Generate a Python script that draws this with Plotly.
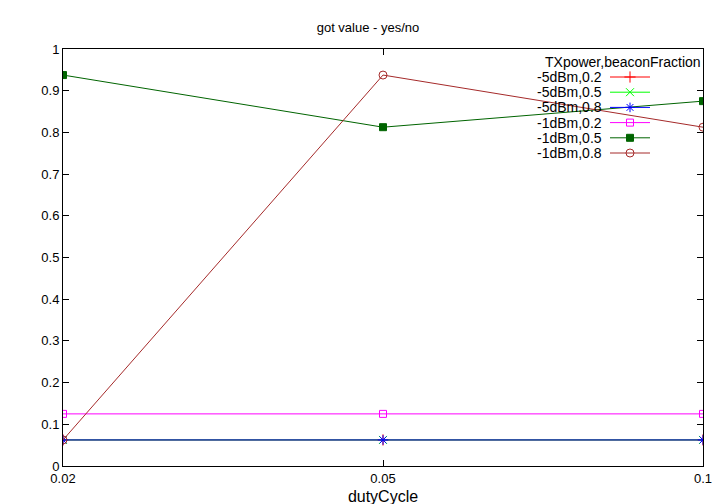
import plotly.graph_objects as go

duty = ["0.02", "0.05", "0.1"]
names = ["-5dBm,0.2", "-5dBm,0.5", "-5dBm,0.8", "-1dBm,0.2", "-1dBm,0.5", "-1dBm,0.8"]
values = [
    [0.0625, 0.0625, 0.0625],
    [0.0625, 0.0625, 0.0625],
    [0.0625, 0.0625, 0.0625],
    [0.125, 0.125, 0.125],
    [0.9375, 0.8125, 0.875],
    [0.0625, 0.9375, 0.8125],
]
colors = ["#ff0000", "#00ff00", "#0000ff", "#ff00ff", "#006400", "#a52a2a"]
symbols = ["cross-thin", "x-thin", "asterisk", "square-open", "square", "circle-open"]
sizes = [8, 8, 8, 7, 7, 8]

W, H = 720, 504
L, R, T, B = 55, 695, 41, 458
def px(x): return (x - L) / (R - L)
def py(y): return (B - y) / (B - T)

fig = go.Figure()
xi = list(range(len(duty)))
for n, v, c, s, z in zip(names, values, colors, symbols, sizes):
    fig.add_trace(go.Scatter(x=xi, y=v, mode="lines+markers", name=n,
        line=dict(color=c, width=1),
        marker=dict(symbol=s, size=z, color=c, line=dict(color=c, width=1)),
        showlegend=False))

ann = [dict(text="TXpower,beaconFraction", x=px(695), y=py(54), xref="paper", yref="paper",
            xanchor="right", yanchor="middle", showarrow=False, font=dict(size=14, color="black"))]
for i, (n, c, s, z) in enumerate(zip(names, colors, symbols, sizes)):
    yy = py(69 + i * 15.2)
    ann.append(dict(text=n, x=px(596), y=yy, xref="paper", yref="paper", xanchor="right",
                    yanchor="middle", showarrow=False, font=dict(size=14, color="black")))
    fig.add_trace(go.Scatter(x=[px(602), px(642)], y=[yy, yy], xaxis="x2", yaxis="y2",
        mode="lines", line=dict(color=c, width=1), showlegend=False, hoverinfo="skip"))
    fig.add_trace(go.Scatter(x=[px(622)], y=[yy], xaxis="x2", yaxis="y2", mode="markers",
        marker=dict(symbol=s, size=z, color=c, line=dict(color=c, width=1)),
        showlegend=False, hoverinfo="skip"))

fig.update_layout(
    width=W, height=H, margin=dict(l=L, r=W - R, t=T, b=H - B, autoexpand=False),
    paper_bgcolor="white", plot_bgcolor="white",
    font=dict(family="Liberation Sans, Arial, sans-serif", size=13, color="black"),
    title=dict(text="got value - yes/no", x=0.5, xanchor="center", y=1 - 19 / H, yanchor="middle",
               font=dict(size=13)),
    annotations=ann,
    xaxis=dict(range=[0, 2], tickmode="array", tickvals=xi, ticktext=duty, showgrid=False,
               zeroline=False, showline=True, mirror="ticks", linecolor="black", linewidth=1,
               ticks="inside", ticklen=6, tickcolor="black", automargin=False,
               title=dict(text="dutyCycle", standoff=6)),
    yaxis=dict(range=[0, 1], dtick=0.1, showgrid=False, zeroline=False, showline=True,
               mirror="ticks", linecolor="black", linewidth=1, ticks="inside", ticklen=6,
               tickcolor="black", automargin=False),
    xaxis2=dict(range=[0, 1], overlaying="x", visible=False, fixedrange=True),
    yaxis2=dict(range=[0, 1], overlaying="y", visible=False, fixedrange=True),
)
fig.write_html("out.html")
